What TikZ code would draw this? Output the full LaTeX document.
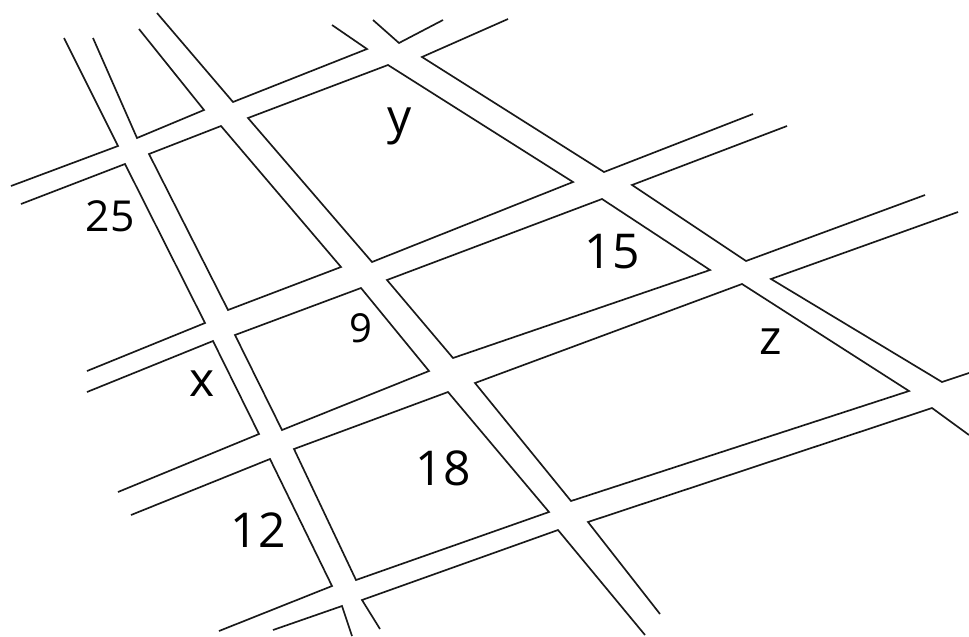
\documentclass[tikz,border=0pt]{standalone}
\usepackage{fontspec}
\setmainfont{Open Sans}
\tikzset{
  street/.style={draw=black!90,line width=1.25pt,line join=miter},
  numlabel/.style={font=\fontsize{36}{36}\selectfont,inner sep=0pt},
  smalllabel/.style={font=\fontsize{30}{30}\selectfont,inner sep=0pt}
}
\begin{document}
\begin{tikzpicture}[x=0.75pt,y=-0.75pt]
  \useasboundingbox (0,0) rectangle (969,636);
  %% Open street edges
  \draw[street] (64,38) -- (118,146) -- (11,186);
  \draw[street] (93,38) -- (137,138) -- (204,110) -- (139,29);
  \draw[street] (157,13) -- (233,102) -- (367,49) -- (332,25);
  \draw[street] (373,20) -- (399,43) -- (443,20);
  \draw[street] (508,19) -- (422,57) -- (604,172) -- (753,114);
  \draw[street] (21,204) -- (125,164) -- (205,323) -- (87,371);
  \draw[street] (87,392) -- (213,341) -- (259,434) -- (118,492);
  \draw[street] (131,515) -- (270,459) -- (332,586) -- (219,631);
  \draw[street] (273,630) -- (342,606) -- (352,636);
  \draw[street] (380,629) -- (362,600) -- (558,530) -- (645,635);
  \draw[street] (660,614) -- (588,522) -- (932,408) -- (969,435);
  \draw[street] (787,126) -- (632,185) -- (746,261) -- (925,195);
  \draw[street] (958,212) -- (771,279) -- (942,382) -- (969,373);
  %% Blocks
  \draw[street] (248,118) -- (388,65) -- (573,182) -- (372,262) -- cycle;
  \draw[street] (149,154) -- (221,126) -- (341,267) -- (228,310) -- cycle;
  \draw[street] (235,335) -- (361,288) -- (429,371) -- (282,430) -- cycle;
  \draw[street] (387,280) -- (602,199) -- (710,270) -- (453,358) -- cycle;
  \draw[street] (294,449) -- (448,392) -- (549,512) -- (356,580) -- cycle;
  \draw[street] (475,383) -- (742,284) -- (909,391) -- (571,501) -- cycle;
  %% Labels
  \node[numlabel,font=\fontsize{32}{32}\selectfont] (lab25) at (110,216) {25};
  \node[numlabel] (labx) at (202,384) {x};
  \node[numlabel] (lab12) at (258,530) {12};
  \node[smalllabel] (lab9) at (361,328) {9};
  \node[numlabel] (lab18) at (443,468) {18};
  \node[numlabel] (lab15) at (612,252) {15};
  \node[numlabel] (laby) at (400,126) {y};
  \node[numlabel] (labz) at (771,342) {z};
\end{tikzpicture}
\end{document}
